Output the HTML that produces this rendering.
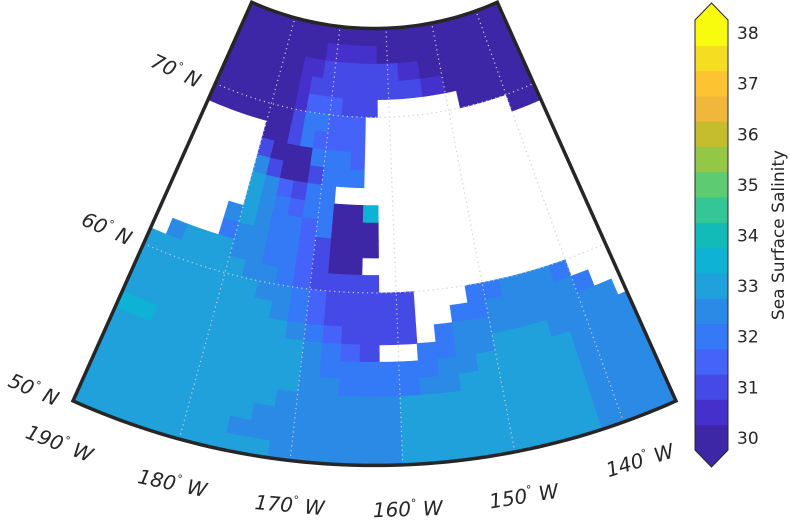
<!DOCTYPE html>
<html><head><meta charset="utf-8"><style>
html,body{margin:0;padding:0;background:#fff;}
svg{display:block;font-family:"DejaVu Sans","Liberation Sans",sans-serif;}
</style></head><body>
<svg id="chart" width="790" height="521" viewBox="0 0 790 521" xmlns="http://www.w3.org/2000/svg">
<defs><clipPath id="mapclip"><path id="clipPath" d=""/></clipPath></defs>
<g id="cells" clip-path="url(#mapclip)"></g>
<g id="grid" clip-path="url(#mapclip)"></g>
<path id="frame" fill="none" stroke="#262626" stroke-width="3.5" stroke-linejoin="miter"/>
<g id="labels" fill="#262626" font-size="20" font-style="italic"></g>
<g id="colorbar"></g>
<text x="0" y="0" transform="translate(784,235) rotate(-90)" text-anchor="middle" font-size="17" fill="#262626">Sea Surface Salinity</text>
</svg>
<script>
// ---- data ----
const lonStarts = [-190,-188,-186,-184,-182,-180,-178,-176,-174,-172,-170,-168,-166,-164,-162,-160,-158,-156,-154,-152,-150,-148,-146,-144,-142,-140,-138,-136];
const latStarts = [74,73,72,71,70,69,68,67,66,65,64,63,62,61,60,59,58,57,56,55,54,53,52,51,50];
const codeValues = {a:30,b:30.5,c:31,d:31.5,e:32,f:32.5,g:33,h:33.5};
const salinityRows = [
"aaaaaaaaaaaaaaaaaaaaaaaaaaaa",
"aaaaaaaaabbbbbaaaaaaaaaaaaaa",
"aaaaaaabbcccccccbbaaaaaaaaaa",
"aaaaaaabccccccccccbbaaaaaaaa",
"aaaaaaabdddccc.......aaaaaaa",
"aaaaaaaceeddd............aaa",
".....aacedddd...............",
".....caaaeeed...............",
".....fcaaceee...............",
".....gfdcee.................",
".....gfedeeaah..............",
"....fgfeedeaaa..............",
"....effeedcaaa..............",
".fgggffeedcaa...............",
"ggggggffedcccc..............",
"gggggggffedccccc...eefffe...",
"ggggggggfedccccc..eefffffe..",
"gggggggggfedcccc.efffffffff.",
"hhggggggggfedc..eeffgggfffff",
"ggggggggggfeeeeeeffgggggffff",
"ggggggggggffeeeeffggggggffff",
"gggggggggffffffgggggggggffff",
"ggggggggfffffffgggggggggffff",
"gggggggffffffffgggggggggffff",
"gggggggggffffffgggggggggffff"
];
const cbLevels = [30,30.5,31,31.5,32,32.5,33,33.5,34,34.5,35,35.5,36,36.5,37,37.5,38];
const cbColors = ["#3d27a6","#4530cc","#4549e6","#4563f8","#3479f5","#2a8ae6","#20a1dc","#0eb2d4","#12bbb8","#34c695","#5ccb72","#95c747","#c6bd2e","#f0b73c","#fdc330","#f5de22","#f9fb0e"];
const cbTicks = [30,31,32,33,34,35,36,37,38];
const meridians = [-180,-170,-160,-150,-140];
const parallels = [60,70];
const lonLabels = ["190","180","170","160","150","140"];
const latLabels = ["50","60","70"];

// ---- projection ----
const CX=374.5, CY=-271.6, LON0=-162.5, N=0.878, LONMIN=-190, LONMAX=-135, LATMIN=50, LATMAX=75;
function rad(lat){const d=lat-60;return 564.5-17.4*d-0.015*d*d;}
function ang(lon){return (lon-LON0)*N*Math.PI/180;}
function proj(lon,lat){const r=rad(lat),t=ang(lon);return [CX+r*Math.sin(t),CY+r*Math.cos(t)];}
function pt(p){return p[0].toFixed(2)+","+p[1].toFixed(2);}
function colorFor(v){let k=Math.round((v-30)/0.5);k=Math.max(0,Math.min(16,k));return cbColors[k];}

const NS="http://www.w3.org/2000/svg";
function sectorPath(){
  const pts=[];const steps=60;
  for(let i=0;i<=steps;i++)pts.push(proj(LONMIN+(LONMAX-LONMIN)*i/steps,LATMAX));
  for(let i=0;i<=steps;i++)pts.push(proj(LONMAX-(LONMAX-LONMIN)*i/steps,LATMIN));
  return "M"+pts.map(pt).join("L")+"Z";
}
const sp=sectorPath();
document.getElementById("clipPath").setAttribute("d",sp);
document.getElementById("frame").setAttribute("d",sp);

const cellsG=document.getElementById("cells");
latStarts.forEach((lat,ri)=>{
  const row=salinityRows[ri];
  lonStarts.forEach((lon,ci)=>{
    const ch=row[ci];
    if(!(ch in codeValues))return;
    const v=codeValues[ch];
    const pts=[];
    for(let s=0;s<=3;s++)pts.push(proj(lon+2*s/3,lat));
    for(let s=3;s>=0;s--)pts.push(proj(lon+2*s/3,lat+1));
    const p=document.createElementNS(NS,"polygon");
    p.setAttribute("points",pts.map(pt).join(" "));
    p.setAttribute("fill",colorFor(v));
    p.setAttribute("stroke",colorFor(v));
    p.setAttribute("stroke-width","0.6");
    
    
    cellsG.appendChild(p);
  });
});

const gridG=document.getElementById("grid");
meridians.forEach(lon=>{
  const pts=[];for(let i=0;i<=20;i++)pts.push(proj(lon,LATMIN+(LATMAX-LATMIN)*i/20));
  const l=document.createElementNS(NS,"polyline");
  l.setAttribute("points",pts.map(pt).join(" "));
  l.setAttribute("fill","none");l.setAttribute("stroke","#cfcfcf");l.setAttribute("stroke-width","1.2");l.setAttribute("stroke-dasharray","1.2,3.5");
  
  
  gridG.appendChild(l);
});
parallels.forEach(lat=>{
  const pts=[];for(let i=0;i<=40;i++)pts.push(proj(LONMIN+(LONMAX-LONMIN)*i/40,lat));
  const l=document.createElementNS(NS,"polyline");
  l.setAttribute("points",pts.map(pt).join(" "));
  l.setAttribute("fill","none");l.setAttribute("stroke","#cfcfcf");l.setAttribute("stroke-width","1.2");l.setAttribute("stroke-dasharray","1.2,3.5");
  
  
  gridG.appendChild(l);
});

const labG=document.getElementById("labels");
function addLabel(x,y,rot,num,suffix,name){
  const t=document.createElementNS(NS,"text");
  t.setAttribute("transform","translate("+x+","+y+") rotate("+rot+")");
  t.setAttribute("text-anchor","middle");
  t.innerHTML=num+'<tspan dy="-9" font-size="11">°</tspan><tspan dy="9"> '+suffix+'</tspan>';
  
  
  labG.appendChild(t);
}
const lonLabelPos=[[57,450,21],[171,490,12],[289,512,5],[408,516,-2],[525,503,-9],[642,467,-17]];
lonLabels.forEach((s,i)=>addLabel(lonLabelPos[i][0],lonLabelPos[i][1],lonLabelPos[i][2],s,"W","lon-label"));
const latLabelPos=[[31,396,23],[104,235,24],[173,77,25]];
latLabels.forEach((s,i)=>addLabel(latLabelPos[i][0],latLabelPos[i][1],latLabelPos[i][2],s,"N","lat-label"));

const cb=document.getElementById("colorbar");
const BX=695,BW=33,BTOP=20,BBOT=450,SEG=(BBOT-BTOP)/cbLevels.length;
cbLevels.forEach((v,k)=>{
  const r=document.createElementNS(NS,"rect");
  r.setAttribute("x",BX);r.setAttribute("y",(BBOT-(k+1)*SEG).toFixed(2));
  r.setAttribute("width",BW);r.setAttribute("height",(SEG+0.5).toFixed(2));
  r.setAttribute("fill",cbColors[k]);
  
  
  cb.appendChild(r);
});
const tri1=document.createElementNS(NS,"polygon");
tri1.setAttribute("points",BX+","+BTOP+" "+(BX+BW/2)+",3 "+(BX+BW)+","+BTOP);
tri1.setAttribute("fill",cbColors[16]);


cb.appendChild(tri1);
const tri2=document.createElementNS(NS,"polygon");
tri2.setAttribute("points",BX+","+BBOT+" "+(BX+BW/2)+",467 "+(BX+BW)+","+BBOT);
tri2.setAttribute("fill",cbColors[0]);


cb.appendChild(tri2);
const outline=document.createElementNS(NS,"polygon");
outline.setAttribute("points",BX+","+BTOP+" "+(BX+BW/2)+",3 "+(BX+BW)+","+BTOP+" "+(BX+BW)+","+BBOT+" "+(BX+BW/2)+",467 "+BX+","+BBOT);
outline.setAttribute("fill","none");outline.setAttribute("stroke","#262626");outline.setAttribute("stroke-width","1");


cb.appendChild(outline);
cbTicks.forEach(v=>{
  const k=Math.round((v-30)/0.5);
  const yc=BBOT-(k+0.5)*SEG;
  const t=document.createElementNS(NS,"text");
  t.setAttribute("x",737);t.setAttribute("y",(yc+6.5).toFixed(1));
  t.setAttribute("font-size","17");t.setAttribute("fill","#262626");
  t.textContent=String(v);
  
  
  cb.appendChild(t);
});
</script>
</body></html>
